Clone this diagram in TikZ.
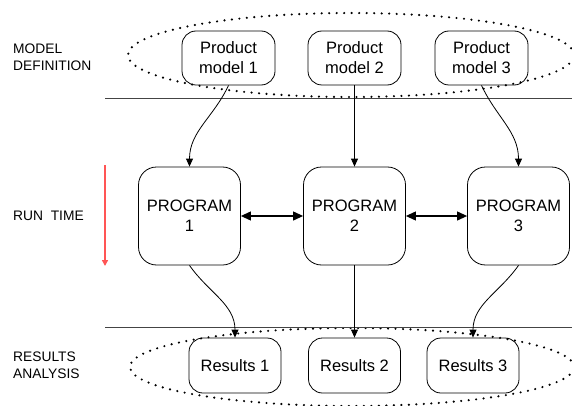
\documentclass[tikz,border=0pt]{standalone}
\usepackage{fontspec}
\setmainfont{Liberation Sans}
\usetikzlibrary{arrows.meta}

\tikzset{
    box/.style={draw,line width=0.8pt,align=center,inner sep=0pt,
        font=\fontsize{16.5}{19.8}\selectfont},
    productbox/.style={box,rounded corners=14pt,minimum width=93pt,minimum height=54pt},
    programbox/.style={box,rounded corners=18pt,minimum width=102pt,minimum height=98pt},
    resultbox/.style={box,rounded corners=14pt,minimum width=92pt,minimum height=55pt},
    sidelabel/.style={anchor=west,align=left,inner sep=0pt,
        font=\fontsize{13.8}{16.6}\selectfont},
    dotring/.style={line width=2.4pt,line cap=round,dash pattern=on 0pt off 7.5pt},
    flow/.style={line width=0.8pt,-{Triangle[length=8pt,width=7pt]}},
    link/.style={line width=1.1pt,{Triangle[length=10pt,width=9pt]}-{Triangle[length=10pt,width=9pt]}},
}
\definecolor{runred}{HTML}{FF5555}
\definecolor{rulegray}{HTML}{444444}

\begin{document}
\begin{tikzpicture}[x=1pt,y=1pt]
    \useasboundingbox (0, 0) rectangle (572, 405);

    % groups and phase borders
    \draw[dotring] (351, 350) ellipse [x radius=223pt, y radius=42pt];
    \draw[dotring] (352, 38) ellipse [x radius=222pt, y radius=39pt];
    \draw[rulegray,line width=0.9pt] (105, 307) -- (572, 307);
    \draw[rulegray,line width=0.9pt] (105, 78) -- (572, 78);

    % phase names
    \node[sidelabel] (defn) at (13, 348) {MODEL\\DEFINITION};
    \node[sidelabel] (run) at (13, 189) {RUN~ TIME};
    \node[sidelabel] (anal) at (13, 40) {RESULTS\\ANALYSIS};
    \draw[runred,line width=1.4pt,-{Triangle[length=6pt,width=6pt]}] (105, 240) -- (105, 139);

    \foreach \i/\xa/\xb/\xc in {1/228.5/189.5/235, 2/354.5/354.5/354.5, 3/481.5/518.5/473} {
        \node[productbox] (model\i) at (\xa, 347) {Product\\model \i};
        \node[programbox] (prog\i) at (\xb, 189) {PROGRAM\\\i};
        \node[resultbox] (res\i) at (\xc, 39.5) {Results \i};
    }

    \draw[flow] (model1.south) to[out=-115, in=90] (prog1.north);
    \draw[flow] (model2.south) -- (prog2.north);
    \draw[flow] (model3.south) to[out=-65, in=90] (prog3.north);

    \draw[link] (prog1.east) -- (prog2.west);
    \draw[link] (prog2.east) -- (prog3.west);

    \draw[flow] (prog1.south) to[out=-55, in=90] (res1.north);
    \draw[flow] (prog2.south) -- (res2.north);
    \draw[flow] (prog3.south) to[out=-125, in=90] (res3.north);
\end{tikzpicture}
\end{document}
